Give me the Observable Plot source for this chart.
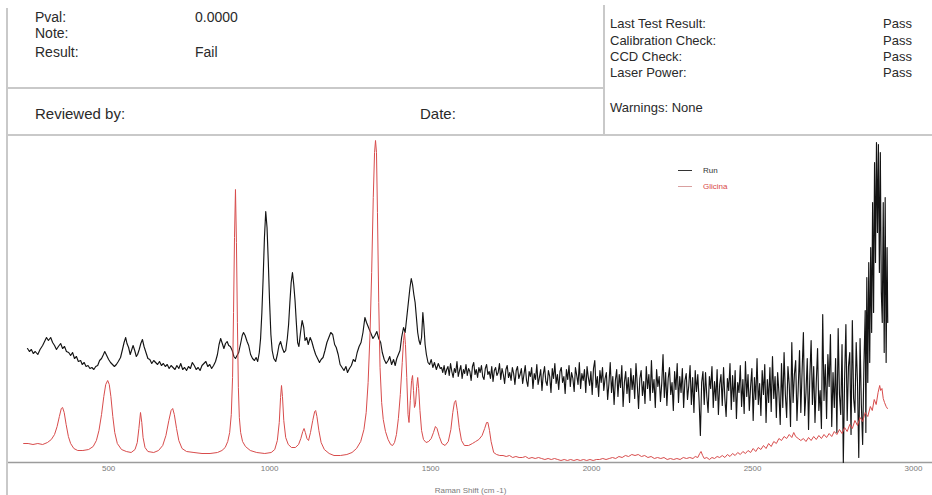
<!DOCTYPE html>
<html>
<head>
<meta charset="utf-8">
<script src="https://cdn.jsdelivr.net/npm/d3@7"></script>
<script src="https://cdn.jsdelivr.net/npm/@observablehq/plot@0.6"></script>
<style>
  html, body { margin: 0; padding: 0; background: #fff; }
  #page { position: relative; width: 932px; height: 495px; overflow: hidden; font-family: "Liberation Sans", Arial, sans-serif; color: #2a2a2a; }
  .ln { position: absolute; background: #c9c9c9; }
  .t { position: absolute; white-space: nowrap; line-height: 1; }
  #chart { position: absolute; left: 0; top: 137px; }
  #legend { position: absolute; left: 678px; top: 162px; font-size: 8px; }
  #legend .row { display: flex; align-items: center; height: 16px; }
  #legend .sw { width: 14px; height: 1px; margin-right: 11px; }
</style>
</head>
<body>
<div id="page">
  <div class="ln" style="left:6px;top:8px;width:2px;height:487px"></div>
  <div class="ln" style="left:7px;top:87px;width:597px;height:2px"></div>
  <div class="ln" style="left:603px;top:5px;width:2px;height:131px"></div>
  <div class="ln" style="left:7px;top:134px;width:925px;height:2px"></div>
  <div id="chart"></div>
  <div id="legend"></div>
</div>
<script>
// ---------- header texts ----------
const leftLabels = ["Pval:", "Note:", "Result:"];
const leftValues = ["0.0000", "", "Fail"];
const reviewLabels = ["Reviewed by:", "Date:"];
const checkLabels = ["Last Test Result:", "Calibration Check:", "CCD Check:", "Laser Power:"];
const checkValues = ["Pass", "Pass", "Pass", "Pass"];
const warningsText = "Warnings: None";

// ---------- chart texts ----------
const seriesNames = ["Run", "Glicina"];
const seriesColors = ["#141414", "#d84c4c"];
const xTicks = [500, 1000, 1500, 2000, 2500, 3000];
const xLabel = "Raman Shift (cm -1)";

// ---------- Glicina reference spectrum [shift cm-1, intensity] ----------
const glicinaPoints = [
[236,19],[250,19],[265,18],[280,19],[295,18],[310,20],[322,23],[332,28],[340,36],[347,46],[353,54],[357,55],[362,50],[368,38],[375,26],[382,19],[392,14],[404,12],[420,12],[438,13],[452,16],[462,22],[470,32],[478,48],[485,66],[491,78],[497,82],[502,78],[507,66],[513,46],[519,30],[527,19],[540,13],[555,11],[570,10],[582,13],[589,20],[594,34],[599,50],[603,40],[607,25],[613,15],[622,11],[640,10],[655,12],[668,17],[678,27],[687,42],[694,52],[699,54],[704,48],[711,34],[718,22],[728,14],[742,11],[765,10],[790,9],[815,9],[838,10],[852,12],[862,15],[870,21],[876,30],[881,48],[885,85],[888,150],[891,225],[894,273],[897,220],[900,140],[903,75],[906,45],[910,30],[916,21],[925,16],[940,12],[960,10],[985,9],[1005,10],[1016,13],[1024,22],[1030,40],[1034,65],[1037,77],[1040,66],[1044,42],[1050,25],[1058,18],[1068,15],[1080,15],[1090,18],[1097,24],[1103,31],[1107,34],[1111,30],[1116,24],[1121,22],[1127,30],[1134,42],[1140,51],[1143,52],[1147,46],[1153,32],[1160,20],[1170,13],[1185,9],[1200,7],[1220,7],[1240,8],[1256,10],[1270,14],[1283,21],[1293,33],[1300,50],[1306,80],[1312,130],[1317,190],[1322,265],[1326,310],[1329,322],[1332,310],[1335,250],[1339,160],[1343,95],[1348,60],[1353,43],[1360,31],[1368,23],[1376,18],[1382,17],[1388,20],[1394,28],[1400,44],[1406,68],[1412,100],[1416,122],[1419,130],[1422,118],[1426,85],[1430,48],[1433,40],[1437,62],[1441,82],[1444,87],[1447,72],[1450,55],[1453,58],[1457,76],[1460,85],[1463,74],[1467,52],[1472,32],[1478,23],[1486,20],[1494,21],[1502,24],[1509,30],[1515,36],[1520,34],[1527,26],[1535,19],[1545,17],[1555,21],[1563,33],[1569,50],[1574,60],[1578,62],[1583,52],[1589,35],[1596,22],[1605,17],[1618,17],[1630,19],[1640,21],[1650,23],[1660,27],[1668,34],[1674,40],[1678,40],[1683,32],[1688,21],[1696,10],
[1705,8],[1715,7],[1725,7],[1735,6],[1745,7],[1755,5],[1765,6],[1775,5],[1785,5],[1795,6],[1805,4],[1815,5],[1825,4],[1835,5],[1845,4],[1855,3],[1865,4],[1875,3],[1885,4],[1895,3],[1905,2],[1915,3],[1925,2],[1935,3],[1945,2],[1955,3],[1965,2],[1975,3],[1985,2],[1995,3],[2005,2],[2015,3],[2025,3],[2035,4],[2045,3],[2055,4],[2065,5],[2075,4],[2085,6],[2095,5],[2105,7],[2115,6],[2125,8],[2135,7],[2145,8],[2155,6],[2165,7],[2175,5],[2185,6],[2195,4],[2205,5],[2215,4],[2225,5],[2235,3],[2245,4],[2255,3],[2265,4],[2275,3],[2285,5],[2295,4],[2305,5],[2315,4],[2322,6],[2330,5],[2336,9],[2340,11],[2345,7],[2350,4],[2358,5],[2366,3],[2374,5],[2382,4],[2390,6],[2398,5],[2406,7],[2414,5],[2422,8],[2430,6],[2438,9],[2446,7],[2454,10],[2462,8],[2470,11],[2478,9],[2486,12],[2494,10],[2502,14],[2510,11],[2518,15],[2526,13],[2534,17],[2542,14],[2550,19],[2558,16],[2566,21],[2574,19],[2582,24],[2590,22],[2598,26],[2606,24],[2614,28],[2622,25],[2628,30],[2634,26],[2642,24],[2650,22],[2658,24],[2666,21],[2674,25],[2682,22],[2690,26],[2698,23],[2706,27],[2714,24],[2722,28],[2730,25],[2738,29],[2746,26],[2754,31],[2762,28],[2770,33],[2778,29],[2786,35],[2794,31],[2802,38],[2810,34],[2818,42],[2826,37],[2834,45],[2842,41],[2850,50],[2858,46],[2866,56],[2872,52],[2878,63],[2884,58],[2890,70],[2895,77],[2898,72],[2902,74],[2906,64],[2910,60],[2915,56],[2919,54]
];

// ---------- Run spectrum [shift cm-1, intensity] ----------
const runPoints = [
[248,114],[254,111],[260,113],[266,109],[272,111],[280,108],[287,113],[295,117],[301,121],[307,125],[313,122],[320,125],[326,120],[332,117],[338,113],[344,116],[351,119],[357,114],[363,116],[369,111],[376,110],[382,107],[388,110],[394,104],[400,106],[406,101],[413,102],[418,98],[424,100],[430,96],[436,97],[442,94],[448,95],[454,93],[460,96],[466,97],[472,102],[478,104],[484,108],[488,111],[494,107],[500,103],[506,100],[512,98],[518,96],[524,98],[530,101],[537,105],[543,113],[548,120],[553,125],[557,119],[562,115],[567,108],[572,113],[576,117],[581,112],[586,106],[590,108],[595,113],[600,119],[605,123],[610,116],[616,110],[622,104],[628,103],[634,99],[640,102],[646,100],[652,98],[658,101],[664,97],[670,99],[676,96],[682,98],[688,94],[694,97],[700,95],[706,93],[712,97],[718,94],[724,99],[730,93],[736,95],[742,92],[748,96],[754,94],[760,100],[766,97],[772,93],[778,95],[784,92],[790,97],[796,99],[802,101],[808,96],[814,98],[820,94],[826,97],[832,101],[838,108],[843,118],[848,124],[853,119],[858,114],[863,119],[868,121],[873,117],[878,116],[884,112],[889,106],[894,104],[899,107],[904,110],[910,119],[915,127],[919,130],[924,127],[930,121],[935,117],[941,108],[947,104],[953,102],[958,105],[963,101],[968,110],[972,124],[976,150],[980,185],[984,225],[988,251],[992,235],[996,200],[1000,160],[1004,128],[1008,112],[1013,104],[1019,101],[1024,108],[1029,117],[1034,121],[1040,114],[1045,110],[1050,112],[1055,124],[1059,138],[1063,160],[1067,180],[1071,190],[1075,178],[1079,162],[1083,140],[1087,120],[1091,116],[1096,130],[1101,142],[1106,135],[1110,122],[1115,125],[1120,118],[1126,125],[1131,121],[1137,114],[1143,108],[1149,104],[1155,100],[1160,103],[1166,105],[1172,112],[1178,120],[1184,125],[1190,130],[1196,128],[1202,118],[1207,115],[1213,108],[1219,98],[1225,95],[1231,92],[1237,96],[1242,90],[1248,94],[1254,97],[1260,103],[1266,101],[1272,110],[1278,116],[1284,120],[1290,130],[1296,145],[1301,140],[1306,136],[1311,132],[1316,128],[1321,124],[1327,127],[1333,131],[1339,124],[1345,120],[1350,110],[1356,103],[1362,99],[1368,102],[1373,106],[1379,98],[1385,103],[1390,97],[1395,104],[1400,108],[1405,112],[1410,125],[1416,135],[1421,130],[1426,145],[1431,160],[1436,175],[1440,184],[1444,178],[1448,168],[1452,160],[1456,145],[1460,130],[1464,122],[1468,118],[1472,125],[1476,150],[1479,138],[1483,118],[1487,108],[1492,100],[1497,98],[1502,103],[1507,95],[1512,100],[1518,93],[1524,99],[1530,94],
[1534,95],[1538,90],[1542,97],[1546,88],[1550,93],[1554,96],[1558,87],[1562,99],[1566,91],[1570,85],[1574,94],[1578,90],[1582,101],[1586,86],[1590,92],[1594,97],[1598,84],[1602,93],[1606,89],[1610,98],[1614,87],[1618,94],[1622,91],[1626,82],[1630,96],[1634,100],[1638,88],[1642,93],[1646,85],[1650,95],[1654,90],[1658,97],[1662,86],[1666,83],[1670,94],[1674,98],[1678,88],[1682,91],[1686,84],[1690,96],[1694,81],[1698,92],[1702,95],[1706,87],[1710,90],[1714,99],[1718,83],[1722,94],[1726,88],[1730,79],[1734,93],[1738,97],[1742,85],[1746,90],[1750,82],[1754,95],[1758,89],[1762,78],[1766,92],[1770,96],[1774,84],[1778,88],
[1782,94],[1786,79],[1790,88],[1794,97],[1798,82],[1802,76],[1806,91],[1810,86],[1814,95],[1818,74],[1822,89],[1826,83],[1830,98],[1834,78],[1838,85],[1842,93],[1846,72],[1850,88],[1854,96],[1858,81],[1862,77],[1866,92],[1870,86],[1874,70],[1878,94],[1882,84],[1886,99],[1890,79],[1894,88],[1898,73],[1902,91],[1906,95],[1910,80],[1914,86],[1918,69],[1922,93],[1926,83],[1930,97],[1934,76],[1938,90],[1942,84],[1946,71],[1950,95],[1954,87],[1958,78],[1962,100],[1966,74],[1970,89],[1974,82],[1978,93],[1982,70],[1986,96],[1990,85],[1994,77],[1998,91],[2002,68],[2006,94],[2010,102],[2014,75],[2018,86],[2022,66],[2026,92],[2030,80],
[2034,95],[2038,72],[2042,84],[2046,90],[2050,63],[2054,79],[2058,100],[2062,70],[2066,86],[2070,58],[2074,82],[2078,93],[2082,66],[2086,88],[2090,75],[2094,97],[2098,56],[2102,80],[2106,91],[2110,69],[2114,85],[2118,60],[2122,94],[2126,73],[2130,87],[2134,64],[2138,99],[2142,78],[2146,54],[2150,84],[2154,92],[2158,67],[2162,81],[2166,59],[2170,96],[2174,74],[2178,88],[2182,62],[2186,102],[2190,70],[2194,83],[2198,55],[2202,93],[2206,76],[2210,86],[2214,61],[2218,79],[2222,108],[2226,65],[2230,90],[2234,57],[2238,84],[2242,95],[2246,68],[2250,80],[2254,52],[2258,91],[2262,73],[2266,99],[2270,60],[2274,86],[2278,70],[2282,94],[2286,55],[2290,82],[2294,89],[2298,63],[2302,77],[2306,97],[2310,58],[2314,85],[2318,50],[2322,92],[2326,71],[2330,88],[2334,62],[2338,27],[2342,80],[2346,91],
[2350,58],[2354,90],[2358,66],[2362,50],[2366,86],[2370,74],[2374,96],[2378,55],[2382,81],[2386,62],[2390,93],[2394,48],[2398,78],[2402,88],[2406,57],[2410,95],[2414,64],[2418,46],[2422,84],[2426,72],[2430,99],[2434,53],[2438,87],[2442,61],[2446,92],[2450,44],[2454,80],[2458,70],[2462,97],[2466,56],[2470,83],[2474,49],[2478,101],[2482,66],[2486,88],[2490,52],[2494,76],[2498,94],[2502,42],[2506,85],[2510,63],[2514,104],[2518,58],[2522,79],[2526,47],[2530,92],[2534,68],[2538,98],[2542,40],[2546,83],[2550,60],[2554,95],[2558,51],[2562,106],[2566,64],[2570,86],[2574,45],[2578,90],[2582,70],[2586,38],[2590,99],
[2594,55],[2598,110],[2602,68],[2606,45],[2610,96],[2614,78],[2618,36],[2622,120],[2626,60],[2630,88],[2634,102],[2638,42],[2642,75],[2646,112],[2650,50],[2654,92],[2658,130],[2662,47],[2666,70],[2670,104],[2674,33],[2678,86],[2682,122],[2686,58],[2690,96],[2694,40],[2698,80],[2702,114],[2706,52],[2710,72],[2714,34],[2718,148],[2722,62],[2726,98],[2730,44],[2734,108],[2738,76],[2742,128],[2746,36],[2750,90],[2754,55],[2758,104],[2762,30],[2766,134],[2770,68],[2774,48],[2778,118],[2782,0],[2786,84],[2790,138],[2794,42],[2798,96],[2802,110],[2806,28],[2810,142],[2814,64],[2818,50],[2822,120],[2826,80],[2830,5],[2834,124],[2838,58],[2842,18],[2846,98],[2850,152],
[2852,30],[2855,185],[2858,80],[2861,200],[2864,100],[2867,215],[2870,130],[2873,260],[2876,150],[2879,300],[2882,200],[2885,320],[2888,230],[2891,318],[2894,190],[2897,310],[2900,170],[2903,140],[2906,260],[2909,110],[2912,265],[2915,100],[2918,215],[2920,140]
];

// ---------- header ----------
const page = document.getElementById("page");
function addText(str, left, top, size, color) {
  const d = document.createElement("div");
  d.className = "t";
  d.textContent = str;
  d.style.left = left + "px";
  d.style.top = top + "px";
  d.style.fontSize = size + "px";
  if (color) d.style.color = color;
  page.appendChild(d);
}
const leftTops = [10, 26, 45];
leftLabels.forEach((s, i) => { addText(s, 35, leftTops[i], 14); if (leftValues[i]) addText(leftValues[i], 195, leftTops[i], 14); });
addText(reviewLabels[0], 35, 106, 15);
addText(reviewLabels[1], 420, 106, 15);
const rightTops = [17, 34, 50, 66];
checkLabels.forEach((s, i) => { addText(s, 610, rightTops[i], 13); addText(checkValues[i], 883, rightTops[i], 13); });
addText(warningsText, 610, 101, 13);

// ---------- chart ----------
const toRows = (pts, name) => pts.map(([shift, intensity]) => ({series: name, shift, intensity}));
const run = toRows(runPoints, seriesNames[0]);
const glicina = toRows(glicinaPoints, seriesNames[1]);

const chart = Plot.plot({
  width: 932,
  height: 358,
  marginTop: 0,
  marginRight: 0,
  marginBottom: 33,
  marginLeft: 8,
  x: {domain: [189, 3059]},
  y: {domain: [0, 325], axis: null},
  style: {fontFamily: "'Liberation Sans', Arial, sans-serif", background: "transparent", overflow: "visible"},
  marks: [
    Plot.ruleY([0], {stroke: "#9c9c9c", strokeWidth: 1.6}),
    Plot.lineY(run, {x: "shift", y: "intensity", stroke: seriesColors[0], strokeWidth: 1.15}),
    Plot.lineY(glicina, {x: "shift", y: "intensity", stroke: seriesColors[1], strokeWidth: 1}),
    Plot.axisX({ticks: xTicks, tickFormat: "d", tickSize: 0, tickPadding: 3, fontSize: 8, color: "#7a7a7a",
      label: xLabel, labelAnchor: "center", labelArrow: "none", labelOffset: 30})
  ]
});
document.getElementById("chart").appendChild(chart);

// ---------- legend ----------
const legend = document.getElementById("legend");
seriesNames.forEach((name, i) => {
  const row = document.createElement("div");
  row.className = "row";
  const sw = document.createElement("div");
  sw.className = "sw";
  sw.style.background = i === 0 ? "#333" : "#d9a0a0";
  const lab = document.createElement("span");
  lab.textContent = name;
  lab.style.color = i === 0 ? "#333" : "#d94848";
  row.appendChild(sw); row.appendChild(lab);
  legend.appendChild(row);
});
</script>
</body>
</html>
